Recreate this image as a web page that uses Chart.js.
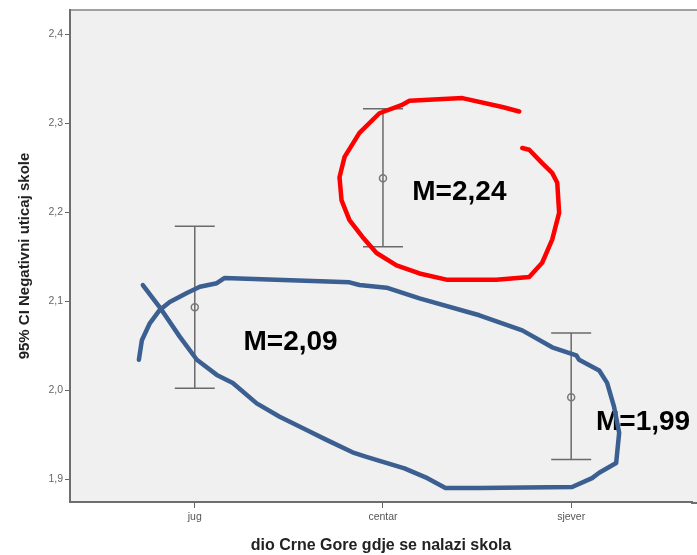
<!DOCTYPE html>
<html>
<head>
<meta charset="utf-8">
<script src="https://cdn.jsdelivr.net/npm/chart.js@4"></script>
<style>
  html, body { margin: 0; padding: 0; background: #fff; }
  #wrap { width: 697px; height: 555px; }
</style>
</head>
<body>
<div id="wrap"><canvas id="grafica" width="697" height="555"></canvas></div>
<script>
// podaci (procjena sa slike)
const kategorije = ["jug", "centar", "sjever"];
const srednje = [2.093, 2.238, 1.992];
const gornja = [2.184, 2.316, 2.064];
const donja = [2.002, 2.161, 1.922];
const yTicks = [1.9, 2.0, 2.1, 2.2, 2.3, 2.4];

// rukom nacrtane oznake, u jedinicama grafika [kategorija, vrijednost]
const crvenaPetlja = [
  [1.724,2.313],[1.634,2.318],[1.422,2.328],[1.141,2.325],[1.098,2.320],[0.981,2.311],
  [0.875,2.289],[0.796,2.262],[0.769,2.239],[0.780,2.213],[0.822,2.191],[0.891,2.172],
  [0.966,2.154],[1.072,2.140],[1.194,2.131],[1.337,2.124],[1.602,2.124],[1.777,2.127],
  [1.846,2.143],[1.899,2.169],[1.936,2.199],[1.926,2.233],[1.899,2.244],[1.846,2.255],
  [1.777,2.270],[1.740,2.272]
];
const plavaPetlja = [
  [-0.297,2.034],[-0.281,2.056],[-0.239,2.075],[-0.186,2.090],[-0.133,2.099],[-0.042,2.109],
  [0.027,2.116],[0.117,2.120],[0.159,2.126],[0.822,2.121],[0.875,2.118],[1.019,2.115],
  [1.194,2.103],[1.512,2.084],[1.740,2.067],[1.899,2.048],[2.027,2.039],[2.042,2.034],
  [2.149,2.022],[2.191,2.008],[2.228,1.981],[2.255,1.952],[2.239,1.918],[2.149,1.907],
  [2.111,1.901],[2.005,1.891],[1.512,1.890],[1.332,1.890],[1.236,1.901],[1.114,1.912],
  [0.912,1.925],[0.838,1.930],[0.700,1.944],[0.594,1.955],[0.451,1.970],[0.329,1.985],
  [0.202,2.008],[0.117,2.017],[0.011,2.034],[-0.080,2.060],[-0.186,2.093],[-0.276,2.118]
];
const natpisi = [
  { tekst: "M=2,24", x: 1.406, y: 2.222 },
  { tekst: "M=2,09", x: 0.509, y: 2.054 },
  { tekst: "M=1,99", x: 2.382, y: 1.964 }
];

const pozadina = {
  id: "pozadina",
  beforeDraw(chart) {
    const { ctx, chartArea: a } = chart;
    ctx.save();
    ctx.fillStyle = "#f0f0f0";
    ctx.fillRect(a.left, a.top, chart.width - a.left, a.bottom - a.top);
    ctx.strokeStyle = "#a0a0a0";
    ctx.lineWidth = 2;
    ctx.beginPath();
    ctx.moveTo(a.left, a.top);
    ctx.lineTo(chart.width, a.top);
    ctx.stroke();
    ctx.restore();
  },
  afterDraw(chart) {
    // produzi donju osu do ruba slike
    const { ctx, chartArea: a } = chart;
    ctx.save();
    ctx.strokeStyle = "#6e6e6e";
    ctx.lineWidth = 2;
    ctx.beginPath();
    ctx.moveTo(a.right - 1, a.bottom + 1);
    ctx.lineTo(chart.width, a.bottom + 1);
    ctx.stroke();
    ctx.restore();
  }
};

const greske = {
  id: "greske",
  beforeDatasetsDraw(chart) {
    const { ctx, scales: { x, y } } = chart;
    ctx.save();
    ctx.strokeStyle = "#6a6a6a";
    ctx.lineWidth = 1.5;
    kategorije.forEach((k, i) => {
      const px = x.getPixelForValue(i);
      const g = y.getPixelForValue(gornja[i]);
      const d = y.getPixelForValue(donja[i]);
      ctx.beginPath();
      ctx.moveTo(px, g); ctx.lineTo(px, d);
      ctx.moveTo(px - 20, g); ctx.lineTo(px + 20, g);
      ctx.moveTo(px - 20, d); ctx.lineTo(px + 20, d);
      ctx.stroke();
    });
    ctx.restore();
  }
};

function crtajPetlju(chart, tacke, boja) {
  const { ctx, scales: { x, y } } = chart;
  ctx.save();
  ctx.strokeStyle = boja;
  ctx.lineWidth = 4.5;
  ctx.lineJoin = "round";
  ctx.lineCap = "round";
  ctx.beginPath();
  tacke.forEach((t, i) => {
    const px = x.getPixelForValue(t[0]);
    const py = y.getPixelForValue(t[1]);
    if (i === 0) ctx.moveTo(px, py); else ctx.lineTo(px, py);
  });
  ctx.stroke();
  ctx.restore();
}

const oznake = {
  id: "oznake",
  afterDatasetsDraw(chart) {
    const { ctx, scales: { x, y } } = chart;
    ctx.save();
    ctx.fillStyle = "#000";
    ctx.font = "bold 28px 'Liberation Sans', Arial, sans-serif";
    ctx.textAlign = "center";
    ctx.textBaseline = "middle";
    natpisi.forEach(n => {
      ctx.fillText(n.tekst, x.getPixelForValue(n.x), y.getPixelForValue(n.y));
    });
    ctx.restore();
    crtajPetlju(chart, crvenaPetlja, "#ff0000");
    crtajPetlju(chart, plavaPetlja, "#3a5f90");
  }
};

new Chart(document.getElementById("grafica"), {
  type: "scatter",
  data: {
    datasets: [{
      data: kategorije.map((k, i) => ({ x: i, y: srednje[i] })),
      pointRadius: 3.5,
      pointHoverRadius: 3.5,
      borderColor: "#777",
      borderWidth: 1.5,
      backgroundColor: "rgba(0,0,0,0)"
    }]
  },
  options: {
    responsive: false,
    animation: false,
    layout: { padding: { top: 10, right: 0, bottom: 0, left: 0 } },
    plugins: { legend: { display: false }, tooltip: { enabled: false } },
    scales: {
      x: {
        type: "linear",
        min: -0.663,
        max: 2.642,
        afterBuildTicks: s => { s.ticks = kategorije.map((k, i) => ({ value: i })); },
        afterFit: s => { s.height = 53; },
        ticks: {
          autoSkip: false,
          maxRotation: 0,
          padding: 3,
          color: "#555",
          font: { family: "'Liberation Sans', Arial, sans-serif", size: 10.5 },
          callback: v => kategorije[v]
        },
        grid: { drawOnChartArea: false, drawTicks: true, tickLength: 6, color: "#666" },
        border: { display: true, color: "#6e6e6e", width: 2 },
        title: {
          display: true,
          text: "dio Crne Gore gdje se nalazi skola",
          color: "#222",
          font: { family: "'Liberation Sans', Arial, sans-serif", size: 16, weight: "bold" },
          padding: { top: 0, bottom: 0 }
        }
      },
      y: {
        min: 1.8742,
        max: 2.427,
        afterBuildTicks: s => { s.ticks = yTicks.map(v => ({ value: v })); },
        afterFit: s => { s.width = 70; },
        ticks: {
          padding: 2,
          color: "#666",
          font: { family: "'Liberation Sans', Arial, sans-serif", size: 10.5 },
          callback: v => v.toFixed(1).replace(".", ",")
        },
        grid: { drawOnChartArea: false, drawTicks: true, tickLength: 5, color: "#666" },
        border: { display: true, color: "#6e6e6e", width: 2 },
        title: {
          display: true,
          text: "95% CI Negativni uticaj skole",
          color: "#222",
          font: { family: "'Liberation Sans', Arial, sans-serif", size: 15, weight: "bold" },
          padding: { top: 16, bottom: 0 }
        }
      }
    }
  },
  plugins: [pozadina, greske, oznake]
});
</script>
</body>
</html>
